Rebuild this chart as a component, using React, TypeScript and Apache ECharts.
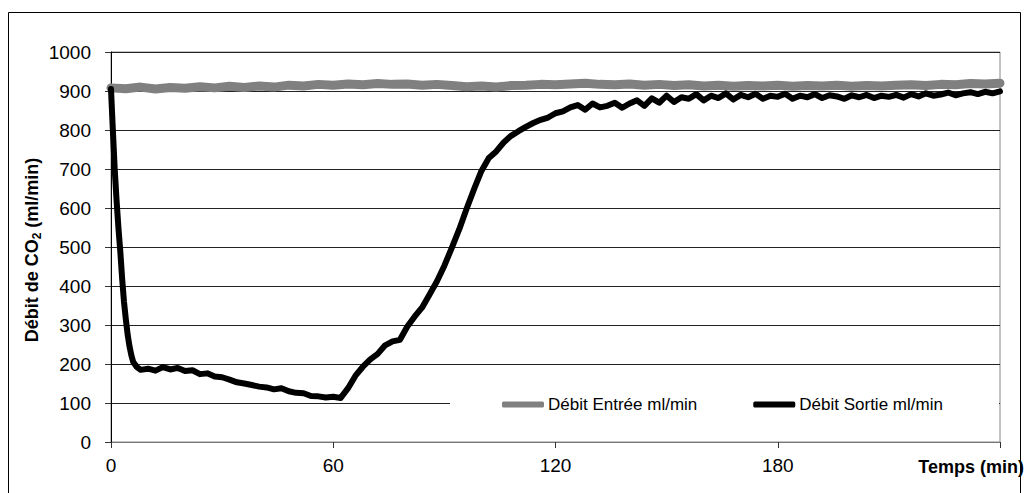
import React, { useEffect, useRef } from "react";
import * as echarts from "echarts";

// Débit Entrée (gray) – time (min) and flow (ml/min)
const timeEntree = [0,4,8,12,16,20,24,28,32,36,40,44,48,52,56,60,64,68,72,76,80,84,88,92,96,100,104,108,112,116,120,124,128,132,136,140,144,148,152,156,160,164,168,172,176,180,184,188,192,196,200,204,208,212,216,220,224,228,232,236,240];
const debitEntree = [908,906,910,905,909,907,911,908,912,909,913,910,915,913,917,915,918,916,919,917,918,915,917,914,911,913,910,914,915,917,916,918,920,917,916,918,915,917,914,916,913,915,912,914,913,915,912,914,913,915,912,914,913,915,916,914,917,916,919,918,920];

// Débit Sortie (black)
const timeSortie = [0,0.5,1,1.5,2,2.5,3,3.5,4,4.5,5,5.5,6,7,8,10,12,14,16,18,20,22,24,26,28,30,32,34,36,38,40,42,44,46,48,50,52,54,56,58,60,62,64,66,68,70,72,74,76,78,80,82,84,86,88,90,92,94,96,98,100,102,104,106,108,110,112,114,116,118,120,122,124,126,128,130,132,134,136,138,140,142,144,146,148,150,152,154,156,158,160,162,164,166,168,170,172,174,176,178,180,182,184,186,188,190,192,194,196,198,200,202,204,206,208,210,212,214,216,218,220,222,224,226,228,230,232,234,236,238,240];
const debitSortie = [905,800,700,620,550,490,420,360,315,275,245,222,205,192,185,188,183,192,186,190,182,184,174,176,168,166,160,153,150,146,142,140,135,138,130,126,125,118,117,114,116,113,138,170,193,212,226,248,258,262,296,322,345,378,412,452,498,545,598,648,695,728,745,768,785,797,808,818,826,832,843,848,858,864,852,868,858,862,870,857,868,876,862,881,870,888,872,884,880,892,876,888,882,894,878,890,884,893,880,888,885,893,880,888,884,892,882,889,886,880,889,884,890,882,888,885,890,883,892,886,894,888,891,896,889,894,897,892,898,894,899];

const xTicks = [0, 60, 120, 180, 240];
const yMin = 0;
const yMax = 1000;
const yStep = 100;

const FONT = "'Liberation Sans', Arial, sans-serif";

export default function App() {
  const ref = useRef<HTMLDivElement>(null);
  useEffect(() => {
    if (!ref.current) return;
    const chart = echarts.init(ref.current, null, { renderer: "svg" });
    const entree = timeEntree.map((t, i) => [t, debitEntree[i]]);
    const sortie = timeSortie.map((t, i) => [t, debitSortie[i]]);
    chart.setOption({
      animation: false,
      backgroundColor: "#fff",
      textStyle: { fontFamily: FONT },
      grid: {
        left: 111,
        top: 52,
        right: 27,
        bottom: 51,
        show: true,
        borderColor: "#888",
        borderWidth: 1,
        containLabel: false,
        outerBoundsMode: "none",
      },
      xAxis: {
        type: "value",
        min: xTicks[0],
        max: xTicks[xTicks.length - 1],
        interval: 60,
        axisLine: { show: true, lineStyle: { color: "#777", width: 1 } },
        axisTick: { show: true, inside: false, length: 6, lineStyle: { color: "#333" } },
        splitLine: { show: false },
        axisLabel: {
          margin: 14,
          fontSize: 19,
          color: "#000",
          fontFamily: FONT,
          formatter: (v: number) => (v === 240 ? "" : String(v)),
        },
      },
      yAxis: {
        type: "value",
        min: yMin,
        max: yMax,
        interval: yStep,
        axisLine: { show: true, lineStyle: { color: "#000", width: 1 } },
        axisTick: { show: true, inside: false, length: 6, lineStyle: { color: "#333" } },
        splitLine: { show: true, lineStyle: { color: "#222", width: 1 } },
        axisLabel: {
          margin: 20,
          fontSize: 19,
          color: "#000",
          fontFamily: FONT,
          formatter: (v: number) => String(v),
        },
      },
      legend: {
        left: 502,
        top: 396,
        padding: 0,
        itemGap: 56,
        itemWidth: 42,
        itemHeight: 6,
        icon: "roundRect",
        textStyle: { fontSize: 17, color: "#000", fontFamily: FONT, padding: [0, 0, 0, -1] },
        data: [
          { name: "Débit Entrée ml/min", itemStyle: { color: "#808080" } },
          { name: "Débit Sortie ml/min", itemStyle: { color: "#000" } },
        ],
      },
      graphic: [
        {
          type: "rect",
          z: 1,
          shape: { x: 450, y: 378, width: 549, height: 63 },
          style: { fill: "#fff" },
        },
        {
          type: "rect",
          z: 0,
          silent: true,
          shape: { x: 8.5, y: 12.5, width: 1012, height: 500 },
          style: { fill: "none", stroke: "#000", lineWidth: 1 },
        },
        {
          type: "text",
          x: 32,
          y: 250,
          rotation: Math.PI / 2,
          style: {
            text: "{a|Débit de CO}{s|2}{a| (ml/min)}",
            align: "center",
            verticalAlign: "middle",
            fill: "#000",
            rich: {
              a: { fontSize: 18, fontWeight: "bold", fontFamily: FONT, lineHeight: 22 },
              s: { fontSize: 12, fontWeight: "bold", fontFamily: FONT, lineHeight: 12, verticalAlign: "bottom", padding: [8, 0, 0, 0] },
            },
          },
        },
        {
          type: "text",
          x: 1024,
          y: 467,
          style: {
            text: "Temps (min)",
            align: "right",
            verticalAlign: "middle",
            fontSize: 18,
            fontWeight: "bold",
            fontFamily: FONT,
            fill: "#000",
          },
        },
      ],
      series: [
        {
          name: "Débit Entrée ml/min",
          type: "line",
          data: entree,
          showSymbol: false,
          symbol: "none",
          z: 2,
          lineStyle: { color: "#808080", width: 9, cap: "round", join: "round" },
          itemStyle: { color: "#808080" },
        },
        {
          name: "Débit Sortie ml/min",
          type: "line",
          data: sortie,
          showSymbol: false,
          symbol: "none",
          z: 3,
          lineStyle: { color: "#000", width: 6, cap: "round", join: "round" },
          itemStyle: { color: "#000" },
        },
      ],
    });
    return () => chart.dispose();
  }, []);
  return (
    <div
      ref={ref}
      style={{ position: "absolute", left: 0, top: 0, width: 1027, height: 493 }}
    />
  );
}
